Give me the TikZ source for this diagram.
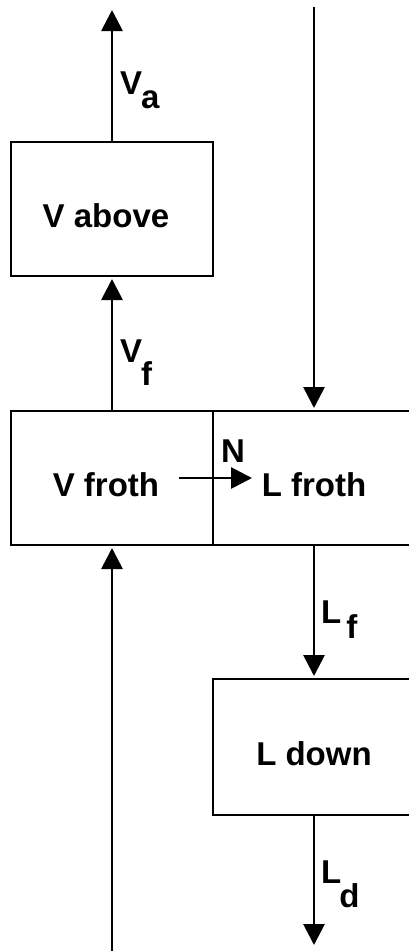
\documentclass[tikz,border=0pt]{standalone}
\usepackage{fontspec}
\setmainfont{Liberation Sans}
\usepackage{tikz}
\usetikzlibrary{arrows.meta,positioning}
\newcommand{\stream}[4]{#1\kern#3\raisebox{-#4}{#2}}

\begin{document}
\begin{tikzpicture}[
  x=1pt, y=-1pt,
  every node/.style={font=\fontsize{33}{40}\selectfont\bfseries},
  tray/.style={draw, line width=2.8pt, minimum width=202pt, minimum height=134pt,
               text height=37pt, text depth=0pt, inner sep=0pt, outer sep=0pt},
  vtray/.style={tray, execute at end node=\hspace{12pt}},
  flow/.style={-{Triangle[length=21pt, width=21pt]}, line width=2.8pt, shorten >=3pt},
  tag/.style={anchor=base west, inner sep=0pt}
]
\clip (0,0) rectangle (409,951);

\node[vtray] (vfroth) at (112,478) {V froth};
\node[tray, right=0pt of vfroth] (lfroth) {L froth};
\node[vtray, above=135pt of vfroth] (vabove) {V above};
\node[tray, below=134pt of lfroth, minimum height=136pt] (ldown) {L down};

\coordinate (vatop) at (112,7);
\coordinate (lin) at (314,7);
\coordinate (vin) at (112,951);
\coordinate (ldout) at (314,948);
\coordinate (nstart) at (179,478);
\coordinate (nend) at (255,478);

\draw[flow] (vabove.north) -- (vatop);
\draw[flow] (vfroth.north) -- (vabove.south);
\draw[flow] (vin) -- (vfroth.south);
\draw[flow] (lin) -- (lfroth.north);
\draw[flow] (lfroth.south) -- (ldown.north);
\draw[flow] (ldown.south) -- (ldout);
\draw[flow] (nstart) -- (nend);

\node[tag] (va) at (120,94) {\stream{V}{a}{-1pt}{14pt}};
\node[tag] (vf) at (120,362) {\stream{V}{f}{-1pt}{23pt}};
\node[tag] (lf) at (321,623) {\stream{L}{f}{5pt}{15pt}};
\node[tag] (ld) at (321,883) {\stream{L}{d}{-2pt}{24pt}};
\node (n) at (233,451) {N};
\end{tikzpicture}
\end{document}
